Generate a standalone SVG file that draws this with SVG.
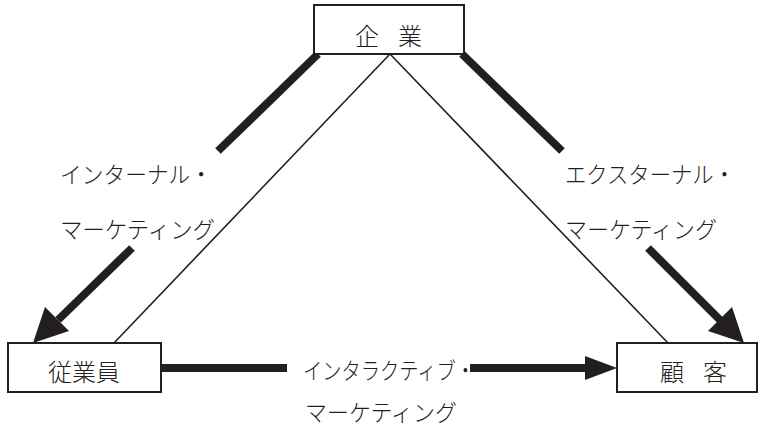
<svg xmlns="http://www.w3.org/2000/svg" width="762" height="433" viewBox="0 0 762 433">
<defs>
<style>
.box{fill:#fff;stroke:#231f20;stroke-width:2}
.thin{stroke:#231f20;stroke-width:1.6;fill:none}
.thick{stroke:#231f20;stroke-width:8;fill:none}
.head{fill:#231f20}
text{font-family:"Noto Sans CJK JP","Noto Sans CJK SC",sans-serif;font-weight:300;fill:#231f20}
.lbl{font-size:23px}
.nd{font-size:24px}
</style>
</defs>
<rect width="762" height="433" fill="#fff"/>
<g id="connectors">
<line class="thin" x1="390" y1="54" x2="114" y2="343"/>
<line class="thin" x1="390" y1="54" x2="668" y2="343"/>
<line class="thick" x1="318" y1="54" x2="218" y2="151"/>
<line class="thick" x1="132" y1="248" x2="58" y2="320"/>
<polygon class="head" points="33,343 45,307 69,331"/>
<line class="thick" x1="462" y1="54" x2="562" y2="151"/>
<line class="thick" x1="648" y1="248" x2="720" y2="320"/>
<polygon class="head" points="744,343 708,331 732,307"/>
<line class="thick" x1="161" y1="368" x2="287" y2="368"/>
<line class="thick" x1="470" y1="368" x2="588" y2="368"/>
<polygon class="head" points="617,368 585,356 585,380"/>
</g>
<g id="kigyo">
<rect class="box" x="314" y="5" width="150" height="49"/>
<text class="nd" x="367" y="45" text-anchor="middle">企</text>
<text class="nd" x="410" y="45" text-anchor="middle">業</text>
</g>
<g id="jugyoin">
<rect class="box" x="8" y="343" width="153" height="49"/>
<text class="nd" x="84" y="381" text-anchor="middle">従業員</text>
</g>
<g id="kokyaku">
<rect class="box" x="617" y="343" width="140" height="49"/>
<text class="nd" x="672" y="381" text-anchor="middle">顧</text>
<text class="nd" x="715" y="381" text-anchor="middle">客</text>
</g>
<g id="labels">
<text class="lbl" x="60" y="183" textLength="152" lengthAdjust="spacingAndGlyphs">インターナル・</text>
<text class="lbl" x="60" y="238" textLength="155" lengthAdjust="spacingAndGlyphs">マーケティング</text>
<text class="lbl" x="565" y="183" textLength="170" lengthAdjust="spacingAndGlyphs">エクスターナル・</text>
<text class="lbl" x="565" y="238" textLength="152" lengthAdjust="spacingAndGlyphs">マーケティング</text>
<text class="lbl" x="303" y="379" textLength="172" lengthAdjust="spacingAndGlyphs">インタラクティブ・</text>
<text class="lbl" x="305" y="421" textLength="152" lengthAdjust="spacingAndGlyphs">マーケティング</text>
</g>
</svg>
